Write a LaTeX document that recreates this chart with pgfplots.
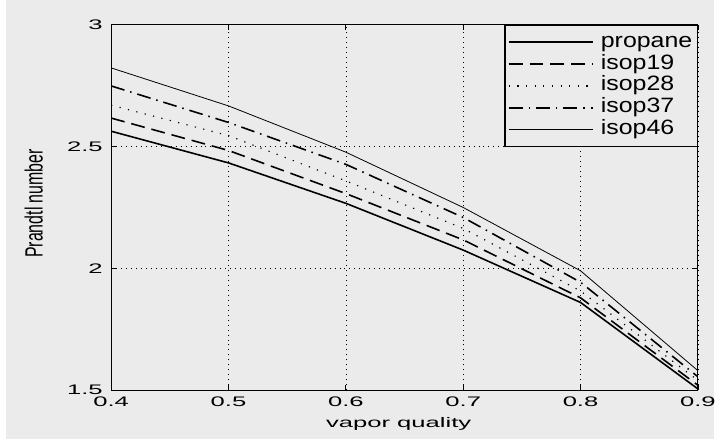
\documentclass[border=0pt]{standalone}
\usepackage{pgfplots}
\pgfplotsset{compat=1.18}
\usepackage{fontspec}
\setmainfont{Liberation Sans}
\newfontfamily\tickfont{Liberation Sans}[FakeStretch=1.85]
\newfontfamily\legfont{Liberation Sans}[FakeStretch=1.2]
\definecolor{bg}{RGB}{235,235,235}
\begin{document}
\begin{tikzpicture}[x=1bp,y=1bp]
\fill[white] (0,0) rectangle (719,444);
\fill[bg] (6,2) rectangle (719,444);
\begin{axis}[
  at={(112bp,51bp)}, anchor=south west,
  scale only axis, width=591bp, height=368bp,
  xmin=0.4, xmax=0.9, ymin=1.5, ymax=3,
  xtick={0.4,0.5,0.6,0.7,0.8,0.9},
  xticklabels={0.4,0.5,0.6,0.7,0.8,0.9},
  ytick={1.5,2,2.5,3},
  yticklabels={1.5,2,2.5,3},
  grid=major,
  grid style={black, line width=0.7bp, dash pattern=on 1bp off 4bp},
  axis line style={line width=1.2bp},
  tick align=inside, major tick length=5bp,
  tick style={black, line width=0.8bp},
  axis background/.style={fill=bg},
  ticklabel style={font=\tickfont\fontsize{14}{16}\selectfont},
  xticklabel style={yshift=-3bp},
  yticklabel style={xshift=-5bp},
  xlabel={vapor quality},
  xlabel style={font=\tickfont\fontsize{14}{16}\selectfont, at={(axis description cs:0.49,-0.092)}, anchor=center},
  ylabel={\scalebox{1.15}[1.8]{Prandtl number}},
  ylabel style={font=\fontsize{14}{16}\selectfont, at={(axis description cs:-0.132,0.511)}, anchor=center},
  legend style={at={(1,1)}, anchor=north east, fill=bg, draw=black, line width=1.2bp,
    font=\legfont\fontsize{21}{23}\selectfont, row sep=0bp, column sep=5bp,
    inner xsep=3bp, inner ysep=6bp,
    nodes={text height=14bp, text depth=4bp, inner sep=2bp}},
  legend cell align=left,
  legend image code/.code={\draw[#1] (0bp,0bp) -- (85bp,0bp);},
]
\addplot[black, line width=1.6bp] coordinates {(0.4,2.563) (0.5,2.433) (0.6,2.267) (0.7,2.075) (0.8,1.860) (0.9,1.505)};
\addlegendentry{propane}
\addplot[black, line width=1.6bp, dash pattern=on 14bp off 7bp] coordinates {(0.4,2.617) (0.5,2.484) (0.6,2.307) (0.7,2.117) (0.8,1.879) (0.9,1.520)};
\addlegendentry{isop19}
\addplot[black, line width=1.2bp, dash pattern=on 1.2bp off 7.5bp] coordinates {(0.4,2.670) (0.5,2.545) (0.6,2.359) (0.7,2.164) (0.8,1.907) (0.9,1.540)};
\addlegendentry{isop28}
\addplot[black, line width=1.6bp, dash pattern=on 14bp off 6bp on 1.5bp off 6bp] coordinates {(0.4,2.749) (0.5,2.599) (0.6,2.427) (0.7,2.209) (0.8,1.943) (0.9,1.555)};
\addlegendentry{isop37}
\addplot[black, line width=0.8bp] coordinates {(0.4,2.823) (0.5,2.667) (0.6,2.477) (0.7,2.250) (0.8,1.990) (0.9,1.580)};
\addlegendentry{isop46}
\end{axis}
\end{tikzpicture}
\end{document}
